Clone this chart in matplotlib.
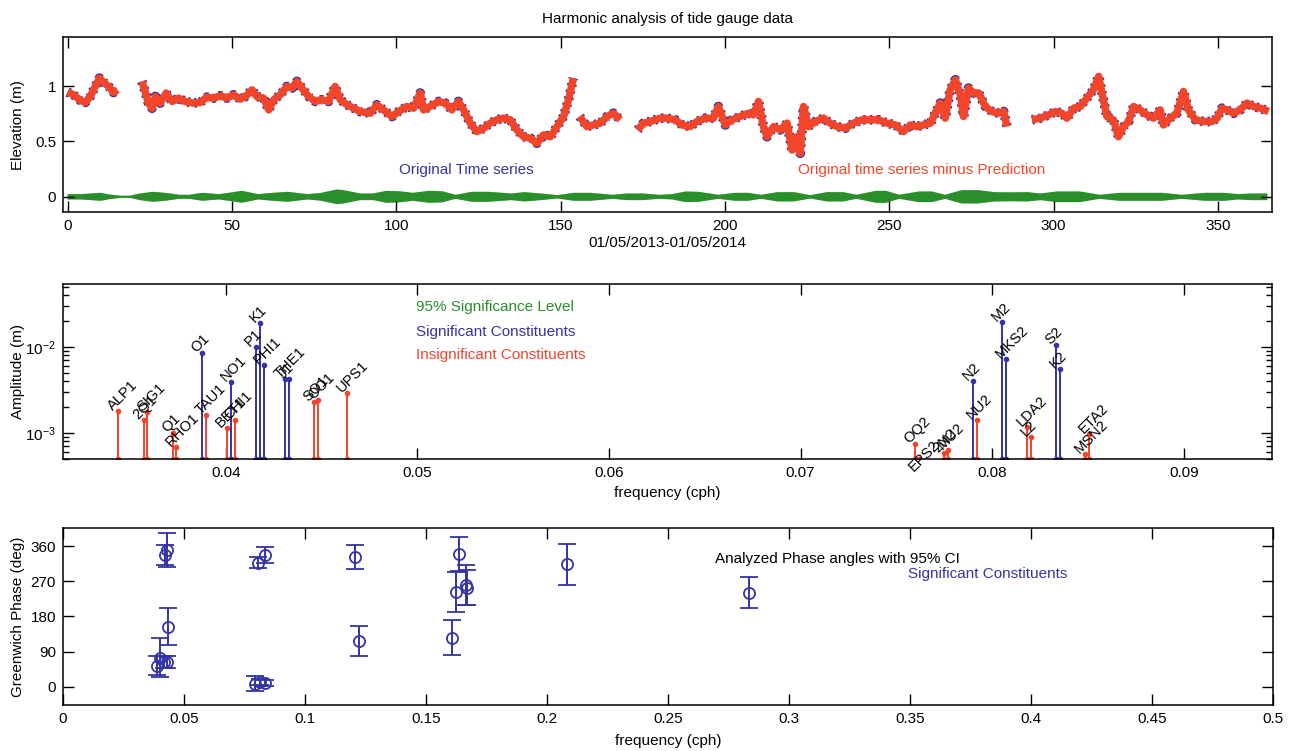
import matplotlib
matplotlib.use('Agg')
import matplotlib.pyplot as plt
from matplotlib.ticker import FuncFormatter, NullFormatter
import numpy as np

plt.rcParams['font.family'] = ['Liberation Sans', 'DejaVu Sans']
plt.rcParams['font.size'] = 11
plt.rcParams['hatch.linewidth'] = 1.2

BLUE = '#3434A4'
RED = '#F2452A'
GREEN = '#2A8F2A'
nan = float('nan')

# ---- top panel: residual series (day, elevation), nan = gap ----
ts_day = [0.0, 1.8, 3.9, 5.4, 6.9, 8.4, 9.7, 11.0, 12.5, 14.0, 15.2, nan,
          22.6, 23.6, 24.6, 25.7, 26.7, 28.2, 30.0, 31.8, 33.8, 35.8, 38.3, 40.4,
          42.4, 44.4, 46.5, 48.5, 50.5, 52.5, 54.1, 56.1, 57.6, 59.6, 61.2, 62.7,
          64.7, 66.7, 68.3, 69.8, 71.3, 73.3, 75.4, 77.4, 79.4, 81.4, 83.0, 85.0,
          87.0, 89.0, 92.1, 94.1, 96.1, 98.7, 100.7, 103.2, 105.3, 107.3, 108.3,
          110.3, 112.9, 114.9, 116.9, 118.9, 120.5, 122.5, 124.5, 126.6, 128.6,
          130.6, 132.6, 134.7, 136.7, 138.7, 140.8, 142.8, 144.8, 146.9, 148.9,
          150.9, 152.4, 153.9, nan,
          155.8, 158.0, 160.0, 162.1, 164.1, 166.1, 168.1, nan,
          173.4, 175.2, 177.3, 180.3, 182.4, 184.9, 186.9, 189.4, 191.5, 194.0,
          196.5, 198.0, 200.1, 202.1, 204.6, 207.2, 208.7, 210.2, 211.7, 212.8,
          214.8, 216.8, 218.9, 220.4, 221.9, 222.9, 223.9, 225.4, 227.5, 230.0,
          232.0, 234.1, 236.6, 239.1, 241.7, 244.2, 246.7, 249.3, 251.8, 254.3,
          256.4, 258.4, 260.4, 262.5, 264.0, 265.5, 267.0, 268.5, 270.1, 271.6,
          272.6, 274.1, 275.6, 277.2, 279.2, 281.2, 283.2, 284.8, 285.8, nan,
          293.4, 295.9, 298.5, 300.5, 302.5, 304.0, 306.1, 308.1, 310.1, 312.1,
          313.7, 314.7, 316.2, 318.2, 319.7, 321.3, 322.8, 324.3, 326.3, 328.4,
          330.4, 332.4, 333.4, 335.5, 337.5, 339.5, 341.0, 343.1, 345.6, 348.2,
          349.7, 351.2, 352.7, 354.7, 356.8, 358.8, 360.8, 362.9, 365.4]
ts_elev = [0.946, 0.921, 0.870, 0.852, 0.906, 0.996, 1.072, 1.033, 0.996, 0.942, 0.966, nan,
           1.042, 0.951, 0.846, 0.800, 0.906, 0.846, 0.937, 0.861, 0.891, 0.861, 0.846, 0.852,
           0.900, 0.891, 0.912, 0.891, 0.921, 0.882, 0.906, 0.966, 0.906, 0.891, 0.785, 0.876,
           0.921, 0.996, 0.982, 1.042, 0.982, 0.906, 0.861, 0.876, 0.861, 0.996, 0.876, 0.831,
           0.800, 0.770, 0.755, 0.831, 0.785, 0.725, 0.770, 0.815, 0.800, 0.937, 0.785,
           0.815, 0.861, 0.846, 0.785, 0.861, 0.785, 0.665, 0.589, 0.619, 0.665,
           0.695, 0.710, 0.695, 0.604, 0.543, 0.529, 0.484, 0.559, 0.543, 0.634,
           0.725, 0.876, 1.072, nan,
           0.725, 0.634, 0.649, 0.665, 0.725, 0.755, 0.695, nan,
           0.604, 0.665, 0.680, 0.710, 0.710, 0.695, 0.649, 0.634, 0.680, 0.710,
           0.710, 0.815, 0.649, 0.695, 0.725, 0.755, 0.740, 0.861, 0.634, 0.543,
           0.634, 0.604, 0.665, 0.423, 0.543, 0.393, 0.815, 0.634, 0.680, 0.710,
           0.665, 0.634, 0.619, 0.665, 0.695, 0.695, 0.695, 0.665, 0.649, 0.589,
           0.649, 0.634, 0.649, 0.665, 0.755, 0.846, 0.710, 0.966, 1.057, 0.921,
           0.725, 0.982, 0.937, 0.937, 0.815, 0.770, 0.755, 0.770, 0.634, nan,
           0.695, 0.710, 0.740, 0.770, 0.755, 0.710, 0.800, 0.815, 0.891, 0.966,
           1.087, 0.937, 0.725, 0.695, 0.543, 0.634, 0.680, 0.815, 0.785, 0.740,
           0.710, 0.785, 0.649, 0.710, 0.755, 0.951, 0.785, 0.695, 0.680, 0.680,
           0.710, 0.800, 0.785, 0.755, 0.785, 0.846, 0.815, 0.800, 0.770]

# tidal prediction envelope (day, half range in m)
env_day = [0, 4, 7, 10, 13, 16, 19, 22, 26, 30, 34, 37, 41, 46, 50, 53, 58, 62, 67, 73,
           77, 82, 84, 89, 93, 97, 101, 105, 110, 114, 118, 123, 128, 135, 139, 144,
           149, 154, 159, 166, 170, 175, 180, 184, 188, 192, 198, 203, 207, 211, 216,
           221, 226, 231, 236, 240, 246, 249, 253, 259, 263, 267, 272, 277, 282, 287,
           292, 296, 301, 308, 314, 320, 327, 333, 339, 346, 352, 356, 360, 365]
env_amp = [0.024, 0.024, 0.030, 0.036, 0.020, 0.010, 0.010, 0.030, 0.045, 0.035, 0.018,
           0.018, 0.036, 0.024, 0.040, 0.054, 0.024, 0.035, 0.045, 0.024, 0.035, 0.066,
           0.060, 0.030, 0.030, 0.054, 0.050, 0.036, 0.054, 0.050, 0.018, 0.045, 0.045,
           0.030, 0.042, 0.030, 0.015, 0.036, 0.036, 0.018, 0.030, 0.030, 0.018, 0.024,
           0.048, 0.045, 0.018, 0.036, 0.036, 0.018, 0.042, 0.042, 0.015, 0.042, 0.042,
           0.018, 0.054, 0.054, 0.018, 0.048, 0.048, 0.018, 0.060, 0.060, 0.042, 0.040,
           0.042, 0.030, 0.048, 0.048, 0.018, 0.036, 0.036, 0.036, 0.018, 0.036, 0.036,
           0.024, 0.030, 0.030]

# ---- middle panel: constituents ----
const_name = ['ALP1', '2Q1', 'SIG1', 'Q1', 'RHO1', 'O1', 'TAU1', 'BET1', 'NO1', 'CHI1',
              'P1', 'K1', 'PHI1', 'THE1', 'J1', 'SO1', 'OO1', 'UPS1',
              'OQ2', 'EPS2', '2N2', 'MU2', 'N2', 'NU2', 'M2', 'MKS2', 'LDA2', 'L2',
              'S2', 'K2', 'MSN2', 'ETA2']
const_freq = [0.0343966, 0.0357064, 0.0359087, 0.0372185, 0.0374209, 0.0387307,
              0.0389588, 0.0400404, 0.0402686, 0.0404710, 0.0415526, 0.0417807,
              0.0420089, 0.0430905, 0.0432929, 0.0446027, 0.0448308, 0.0463430,
              0.0759749, 0.0761773, 0.0774871, 0.0776895, 0.0789992, 0.0792016,
              0.0805114, 0.0807396, 0.0818212, 0.0820236, 0.0833333, 0.0835615,
              0.0848455, 0.0850736]
const_amp = [1.82e-3, 1.42e-3, 1.77e-3, 1.0e-3, 6.9e-4, 8.45e-3, 1.62e-3, 1.15e-3,
             3.95e-3, 1.42e-3, 1.0e-2, 1.92e-2, 6.2e-3, 4.3e-3, 4.3e-3, 2.31e-3,
             2.42e-3, 2.9e-3,
             7.4e-4, 3.5e-4, 5.9e-4, 6.3e-4, 4.03e-3, 1.42e-3, 1.97e-2, 7.24e-3,
             1.18e-3, 9.1e-4, 1.07e-2, 5.54e-3, 5.7e-4, 9.65e-4]
const_sig = [0, 0, 0, 0, 0, 1, 0, 0, 1, 0, 1, 1, 1, 1, 1, 0, 0, 0,
             0, 0, 0, 0, 1, 0, 1, 1, 0, 0, 1, 1, 0, 0]

# ---- bottom panel: phases of significant constituents ----
phase_freq = [0.0387, 0.0401, 0.0419, 0.0429, 0.0433, 0.0421, 0.0431, 0.0793, 0.0813,
              0.0833, 0.0805, 0.0835, 0.1205, 0.1223, 0.1609, 0.1623, 0.1638, 0.1665,
              0.1671, 0.2083, 0.2835]
phase_deg = [54, 74, 64, 64, 154, 338, 351, 8, 11, 10, 318, 338, 333, 117, 125, 242,
             340, 260, 254, 314, 241]
phase_err = [24, 50, 15, 15, 48, 26, 43, 20, 8, 8, 14, 21, 31, 39, 45, 51, 44, 51, 45,
             53, 39]

fig = plt.figure(figsize=(12.93, 7.51), dpi=100, facecolor='white')


def style_axes(ax):
    ax.tick_params(which='both', direction='in', top=True, right=True, labelsize=11,
                   width=1.0, pad=5)
    ax.tick_params(which='major', length=8)
    ax.tick_params(which='minor', length=4)
    for s in ax.spines.values():
        s.set_linewidth(1.1)


# ========== top: time series ==========
ax1 = fig.add_axes([0.0487, 0.7173, 0.935, 0.233])
neg_amp = [-a for a in env_amp]
ax1.fill_between(env_day, neg_amp, env_amp, facecolor='#b4dab4', lw=0)
ax1.fill_between(env_day, neg_amp, env_amp, facecolor='none', edgecolor=GREEN,
                 hatch='|' * 14, lw=0)
ax1.plot(ts_day, ts_elev, color=BLUE, lw=7.0, dashes=(0.25, 0.45),
         solid_joinstyle='round')
ax1.plot(ts_day, ts_elev, color=RED, lw=5.4, solid_joinstyle='round',
         solid_capstyle='butt')
ax1.set_xlim(-1.4, 366.4)
ax1.set_ylim(-0.14, 1.44)
ax1.set_xticks(np.arange(0, 351, 50))
ax1.set_yticks([0, 0.5, 1])
ax1.yaxis.set_major_formatter(FuncFormatter(lambda v, p: '%g' % v))
ax1.text(121.4, 0.242, 'Original Time series', color=BLUE, ha='center', va='center')
ax1.text(259.7, 0.242, 'Original time series minus Prediction', color=RED,
         ha='center', va='center')
ax1.set_title('Harmonic analysis of tide gauge data', fontsize=11, pad=10)
ax1.set_xlabel('01/05/2013-01/05/2014')
ax1.set_ylabel('Elevation (m)')
ax1.xaxis.set_label_coords(0.5, -0.135)
ax1.yaxis.set_label_coords(-0.031, 0.5)
style_axes(ax1)

# ========== middle: amplitudes ==========
ax2 = fig.add_axes([0.0487, 0.3888, 0.935, 0.233])
ax2.set_yscale('log')
ylo, yhi = 5e-4, 0.054
for name, f, a, s in zip(const_name, const_freq, const_amp, const_sig):
    c = BLUE if s else RED
    ax2.plot([f, f], [ylo, a], '-', color=c, lw=1.4, marker='.', ms=6)
    ax2.annotate(name, (f, a), xytext=(-4, 0), textcoords='offset points',
                 rotation=45, rotation_mode='anchor', ha='left', va='baseline',
                 fontsize=10.5, annotation_clip=False)
ax2.set_xlim(0.0315, 0.0946)
ax2.set_ylim(ylo, yhi)
ax2.set_xticks(np.arange(0.04, 0.0901, 0.01))
ax2.xaxis.set_major_formatter(FuncFormatter(lambda v, p: '%g' % round(v, 4)))
ax2.yaxis.set_minor_formatter(NullFormatter())
ax2.text(0.292, 0.869, '95% Significance Level', color=GREEN, transform=ax2.transAxes,
         va='center')
ax2.text(0.292, 0.726, 'Significant Constituents', color=BLUE, transform=ax2.transAxes,
         va='center')
ax2.text(0.292, 0.594, 'Insignificant Constituents', color=RED, transform=ax2.transAxes,
         va='center')
ax2.set_xlabel('frequency (cph)')
ax2.set_ylabel('Amplitude (m)')
ax2.xaxis.set_label_coords(0.5, -0.154)
ax2.yaxis.set_label_coords(-0.031, 0.5)
style_axes(ax2)

# ========== bottom: phases ==========
ax3 = fig.add_axes([0.0487, 0.0613, 0.9359, 0.2357])
ax3.errorbar(phase_freq, phase_deg, yerr=phase_err, fmt='o', mfc='none', mec=BLUE,
             ecolor=BLUE, color=BLUE, ms=8, mew=1.3, capsize=6.5, elinewidth=1.4,
             capthick=1.4)
ax3.set_xlim(0, 0.5)
ax3.set_ylim(-47, 407)
ax3.set_xticks(np.arange(0, 0.501, 0.05))
ax3.set_yticks([0, 90, 180, 270, 360])
ax3.xaxis.set_major_formatter(FuncFormatter(lambda v, p: '%g' % round(v, 3)))
ax3.text(0.2694, 328, 'Analyzed Phase angles with 95% CI', color='black', va='center')
ax3.text(0.3492, 290, 'Significant Constituents', color=BLUE, va='center')
ax3.set_xlabel('frequency (cph)')
ax3.set_ylabel('Greenwich Phase (deg)')
ax3.xaxis.set_label_coords(0.5, -0.164)
ax3.yaxis.set_label_coords(-0.031, 0.5)
style_axes(ax3)

fig.savefig('out.png', dpi=100, facecolor='white')
